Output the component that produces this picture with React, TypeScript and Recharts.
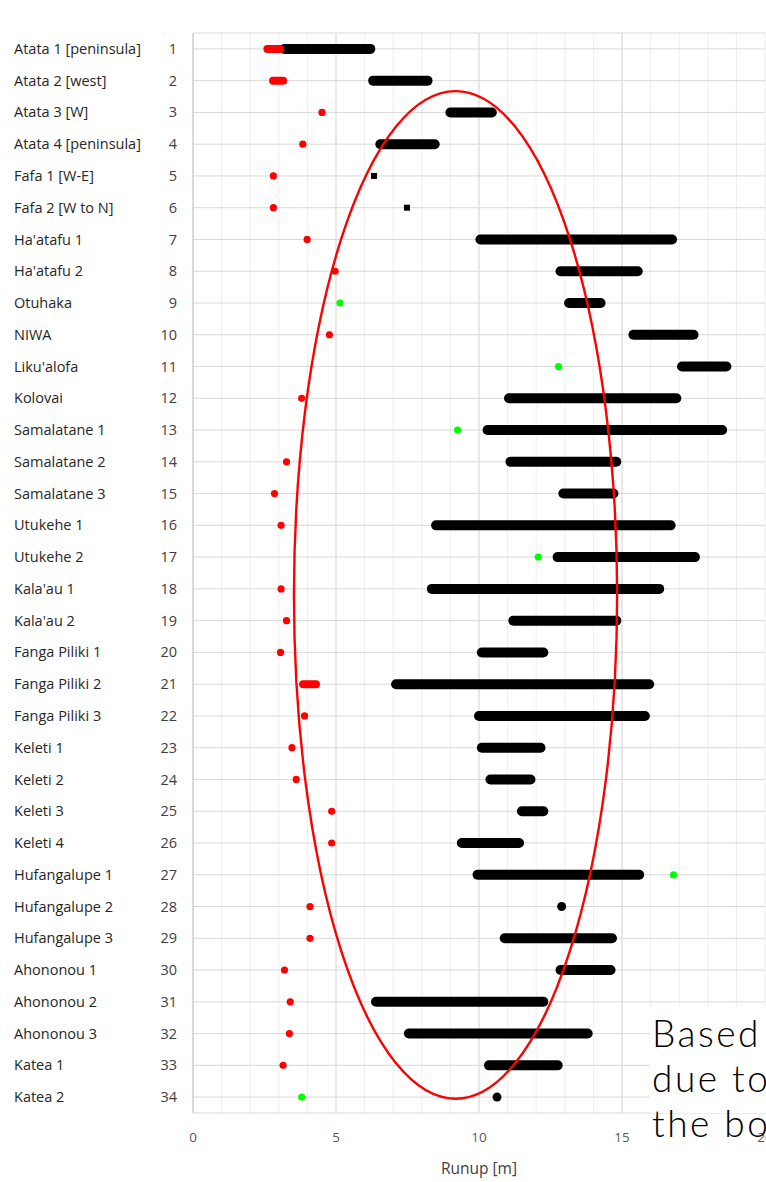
import React from 'react';
import {
  ScatterChart,
  Scatter,
  XAxis,
  YAxis,
  CartesianGrid,
  ReferenceLine,
  ReferenceDot,
} from 'recharts';

// ---------- data ----------
const sites = [
  'Atata 1 [peninsula]', 'Atata 2 [west]', 'Atata 3 [W]', 'Atata 4 [peninsula]',
  'Fafa 1 [W-E]', 'Fafa 2 [W to N]', "Ha'atafu 1", "Ha'atafu 2", 'Otuhaka', 'NIWA',
  "Liku'alofa", 'Kolovai', 'Samalatane 1', 'Samalatane 2', 'Samalatane 3',
  'Utukehe 1', 'Utukehe 2', "Kala'au 1", "Kala'au 2", 'Fanga Piliki 1',
  'Fanga Piliki 2', 'Fanga Piliki 3', 'Keleti 1', 'Keleti 2', 'Keleti 3',
  'Keleti 4', 'Hufangalupe 1', 'Hufangalupe 2', 'Hufangalupe 3', 'Ahononou 1',
  'Ahononou 2', 'Ahononou 3', 'Katea 1', 'Katea 2',
];

const blackStart: (number | null)[] = [
  3.2, 6.3, 9.0, 6.55, null, null, 10.05, 12.85, 13.15, 15.4,
  17.1, 11.05, 10.3, 11.1, 12.95, 8.5, 12.75, 8.35, 11.2, 10.1,
  7.1, 10.0, 10.1, 10.4, 11.5, 9.4, 9.95, null, 10.9, 12.85,
  6.4, 7.55, 10.35, null,
];
const blackEnd: (number | null)[] = [
  6.2, 8.2, 10.45, 8.45, null, null, 16.75, 15.55, 14.25, 17.5,
  18.65, 16.9, 18.5, 14.8, 14.7, 16.7, 17.55, 16.3, 14.8, 12.25,
  15.95, 15.8, 12.15, 11.8, 12.25, 11.4, 15.6, null, 14.65, 14.6,
  12.25, 13.8, 12.75, null,
];
const blackSquare: (number | null)[] = [
  null, null, null, null, 6.33, 7.48, null, null, null, null,
  null, null, null, null, null, null, null, null, null, null,
  null, null, null, null, null, null, null, null, null, null,
  null, null, null, null,
];
const blackDot: (number | null)[] = [
  null, null, null, null, null, null, null, null, null, null,
  null, null, null, null, null, null, null, null, null, null,
  null, null, null, null, null, null, null, 12.89, null, null,
  null, null, null, 10.63,
];
const redStart: (number | null)[] = [
  2.6, 2.8, null, null, null, null, null, null, null, null,
  null, null, null, null, null, null, null, null, null, null,
  3.85, null, null, null, null, null, null, null, null, null,
  null, null, null, null,
];
const redEnd: (number | null)[] = [
  3.05, 3.15, null, null, null, null, null, null, null, null,
  null, null, null, null, null, null, null, null, null, null,
  4.3, null, null, null, null, null, null, null, null, null,
  null, null, null, null,
];
const redDot: (number | null)[] = [
  null, null, 4.51, 3.84, 2.81, 2.81, 3.99, 4.97, null, 4.77,
  null, 3.8, null, 3.27, 2.85, 3.08, null, 3.08, 3.27, 3.06,
  null, 3.9, 3.46, 3.61, 4.85, 4.85, null, 4.09, 4.09, 3.2,
  3.4, 3.37, 3.15, null,
];
const greenDot: (number | null)[] = [
  null, null, null, null, null, null, null, null, 5.14, null,
  12.78, null, 9.25, null, null, null, 12.07, null, null, null,
  null, null, null, null, null, null, 16.8, null, null, null,
  null, null, null, 3.8,
];

const rowTicks = sites.map((_, i) => i + 1);
const xTicks = [0, 1, 2, 3, 4, 5, 6, 7, 8, 9, 10, 11, 12, 13, 14, 15, 16, 17, 18, 19, 20];
const majorX = [5, 10, 15];

// annotation ellipse (data coordinates: centre, half-width in metres, half-height in rows)
const ellipseCenter = { x: 9.18, y: 18.19 };
const ellipseHalfX = 5.65;
const ellipseHalfRows = 15.86;

const noteLines = ['Based', 'due to', 'the bo'];

// ---------- layout ----------
const CHART_W = 800;
const CHART_H = 1182;
const MARGIN = { top: 33, right: 35, bottom: 0, left: 0 };
const Y_AXIS_W = 193;
const X_AXIS_H = 69;
const PLOT_W = CHART_W - MARGIN.left - MARGIN.right - Y_AXIS_W;
const PLOT_H = CHART_H - MARGIN.top - MARGIN.bottom - X_AXIS_H;
const PX_PER_X = PLOT_W / 20;
const PX_PER_ROW = PLOT_H / 34;

const pts = (vals: (number | null)[]) =>
  vals
    .map((v, i) => (v == null ? null : { x: v, y: i + 1 }))
    .filter((p): p is { x: number; y: number } => p !== null);

const NoShape = () => <g />;
const makeDot = (color: string, r: number) => (p: any) =>
  <circle cx={p.cx} cy={p.cy} r={r} fill={color} />;
const SquareShape = (p: any) => (
  <rect x={p.cx - 3} y={p.cy - 3} width={6} height={6} fill="#000" />
);
const EllipseShape = (p: any) => (
  <ellipse
    cx={p.cx}
    cy={p.cy}
    rx={ellipseHalfX * PX_PER_X}
    ry={ellipseHalfRows * PX_PER_ROW}
    fill="none"
    stroke="#ff0000"
    strokeWidth={2.4}
  />
);

const YTick = (p: any) => {
  const v = p.payload.value as number;
  return (
    <g>
      <text
        x={14}
        y={p.y}
        dy="0.35em"
        fill="#262626"
        fontSize={14.5}
        fontFamily="'Open Sans', sans-serif"
      >
        {sites[v - 1]}
      </text>
      <text
        x={177}
        y={p.y}
        dy="0.35em"
        textAnchor="end"
        fill="#404040"
        fontSize={14.5}
        fontFamily="'Open Sans', sans-serif"
      >
        {v}
      </text>
    </g>
  );
};

export default function App() {
  return (
    <div
      style={{
        position: 'absolute',
        left: 0,
        top: 0,
        width: 766,
        height: 1182,
        overflow: 'hidden',
        background: '#fff',
      }}
    >
      <ScatterChart width={CHART_W} height={CHART_H} margin={MARGIN}>
        <CartesianGrid horizontal={false} stroke="#efefef" strokeWidth={1} />
        <CartesianGrid vertical={false} stroke="#d9d9d9" strokeWidth={1} />
        {majorX.map((v) => (
          <ReferenceLine key={'mx' + v} x={v} stroke="#d9d9d9" strokeWidth={1} />
        ))}
        <XAxis
          type="number"
          dataKey="x"
          domain={[0, 20]}
          ticks={xTicks}
          interval={0}
          allowDataOverflow
          height={X_AXIS_H}
          axisLine={false}
          tickLine={false}
          tickSize={0}
          tickMargin={19}
          tickFormatter={(v: number) => (v % 5 === 0 ? String(v) : '')}
          tick={{ fill: '#595959', fontSize: 13.5, fontFamily: "'Open Sans', sans-serif" }}
          label={{
            value: 'Runup [m]',
            position: 'insideBottom',
            offset: 8,
            fill: '#404040',
            fontSize: 15.5,
            fontFamily: "'Open Sans', sans-serif",
          }}
        />
        <YAxis
          type="number"
          dataKey="y"
          domain={[0.5, 34.5]}
          reversed
          ticks={rowTicks}
          interval={0}
          allowDataOverflow
          width={Y_AXIS_W}
          axisLine={{ stroke: '#bfbfbf' }}
          tickLine={false}
          tick={<YTick />}
        />
        {blackStart.map((s, i) => {
          const e = blackEnd[i];
          if (s == null || e == null) return null;
          return (
            <Scatter
              key={'b' + i}
              data={[{ x: s, y: i + 1 }, { x: e, y: i + 1 }]}
              line={{ stroke: '#000000', strokeWidth: 10, strokeLinecap: 'round' }}
              lineType="joint"
              shape={NoShape}
              isAnimationActive={false}
            />
          );
        })}
        <Scatter data={pts(blackSquare)} shape={SquareShape} isAnimationActive={false} />
        <Scatter data={pts(blackDot)} shape={makeDot('#000000', 4.5)} isAnimationActive={false} />
        {redStart.map((s, i) => {
          const e = redEnd[i];
          if (s == null || e == null) return null;
          return (
            <Scatter
              key={'r' + i}
              data={[{ x: s, y: i + 1 }, { x: e, y: i + 1 }]}
              line={{ stroke: '#ff0000', strokeWidth: 8, strokeLinecap: 'round' }}
              lineType="joint"
              shape={NoShape}
              isAnimationActive={false}
            />
          );
        })}
        <Scatter data={pts(redDot)} shape={makeDot('#ff0000', 3.6)} isAnimationActive={false} />
        <Scatter data={pts(greenDot)} shape={makeDot('#00ff00', 3.6)} isAnimationActive={false} />
        <ReferenceDot
          x={ellipseCenter.x}
          y={ellipseCenter.y}
          r={1}
          ifOverflow="visible"
          shape={EllipseShape}
        />
      </ScatterChart>
      <svg
        width={766}
        height={1182}
        style={{ position: 'absolute', left: 0, top: 0, pointerEvents: 'none' }}
      >
        <rect x={650} y={1007} width={116} height={106} fill="#ffffff" />
        {noteLines.map((t, i) => (
          <text
            key={t}
            x={652}
            y={1047 + i * 45}
            fontSize={37}
            fontWeight={300}
            letterSpacing={2.5}
            fontFamily="Lato, 'DejaVu Sans', sans-serif"
            fill="#000000"
          >
            {t}
          </text>
        ))}
      </svg>
    </div>
  );
}
